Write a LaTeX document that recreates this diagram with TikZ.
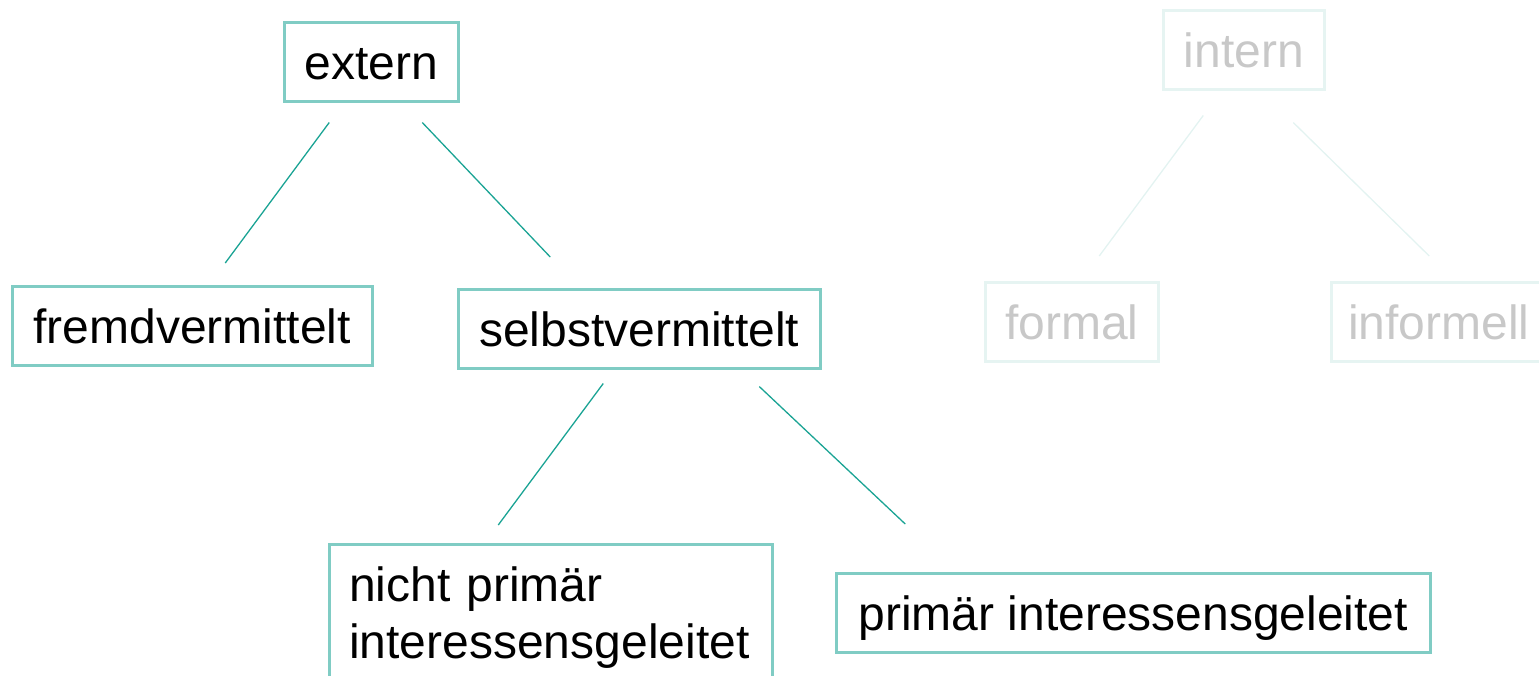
\documentclass[tikz,border=0pt]{standalone}
\usepackage{fontspec}
\setmainfont{Liberation Sans}
\definecolor{boxc}{HTML}{80CCC4}
\definecolor{linec}{HTML}{1AA394}
\definecolor{fadebox}{HTML}{E6F4F2}
\definecolor{fadetext}{HTML}{C8C8C8}
\definecolor{fadeline}{HTML}{E3F3F1}
\tikzset{
  tbox/.style={draw=boxc, line width=2.5pt, anchor=north west, inner xsep=0pt, inner ysep=17pt,
    text height=40pt, text depth=5pt, minimum height=79pt, align=center,
    font=\fontsize{48}{57}\selectfont, text=black},
  fbox/.style={tbox, draw=fadebox, text=fadetext},
  conn/.style={draw=linec, line width=1.3pt},
  fconn/.style={draw=fadeline, line width=1.3pt}
}
\begin{document}
\begin{tikzpicture}[x=1pt,y=-1pt]
\useasboundingbox (0,0) rectangle (1539,675);
% active tree
\node[tbox, minimum width=174pt] (extern) at (283,21) {extern};
\node[tbox, minimum width=360pt] (fremd) at (11,285) {fremdvermittelt};
\node[tbox, minimum width=362pt] (selbst) at (457,288) {selbstvermittelt};
\node[tbox, text width=403pt, inner xsep=20pt, align=left, text depth=62pt] (nicht) at (328,543) {nicht primär\\interessensgeleitet};
\node[tbox, minimum width=594pt] (primaer) at (835,572) {primär interessensgeleitet};
% faded tree
\node[fbox, minimum width=161pt] (intern) at (1162,9) {intern};
\node[fbox, minimum width=173pt] (formal) at (984,281) {formal};
\node[fbox, minimum width=215pt] (informell) at (1330,281) {informell};
% connectors
\draw[conn] ([shift={(-42,20)}]extern.south) -- ([shift={(33,-22)}]fremd.north);
\draw[conn] ([shift={(51,20)}]extern.south) -- ([shift={(-89,-31)}]selbst.north);
\draw[conn] ([shift={(-36,14)}]selbst.south) -- ([shift={(-52.5,-18)}]nicht.north);
\draw[conn] ([shift={(120,17)}]selbst.south) -- ([shift={(-228,-48)}]primaer.north);
\draw[fconn] ([shift={(-40.5,25)}]intern.south) -- ([shift={(27.5,-25)}]formal.north);
\draw[fconn] ([shift={(49.5,32)}]intern.south) -- ([shift={(-9.5,-25)}]informell.north);
\end{tikzpicture}
\end{document}
